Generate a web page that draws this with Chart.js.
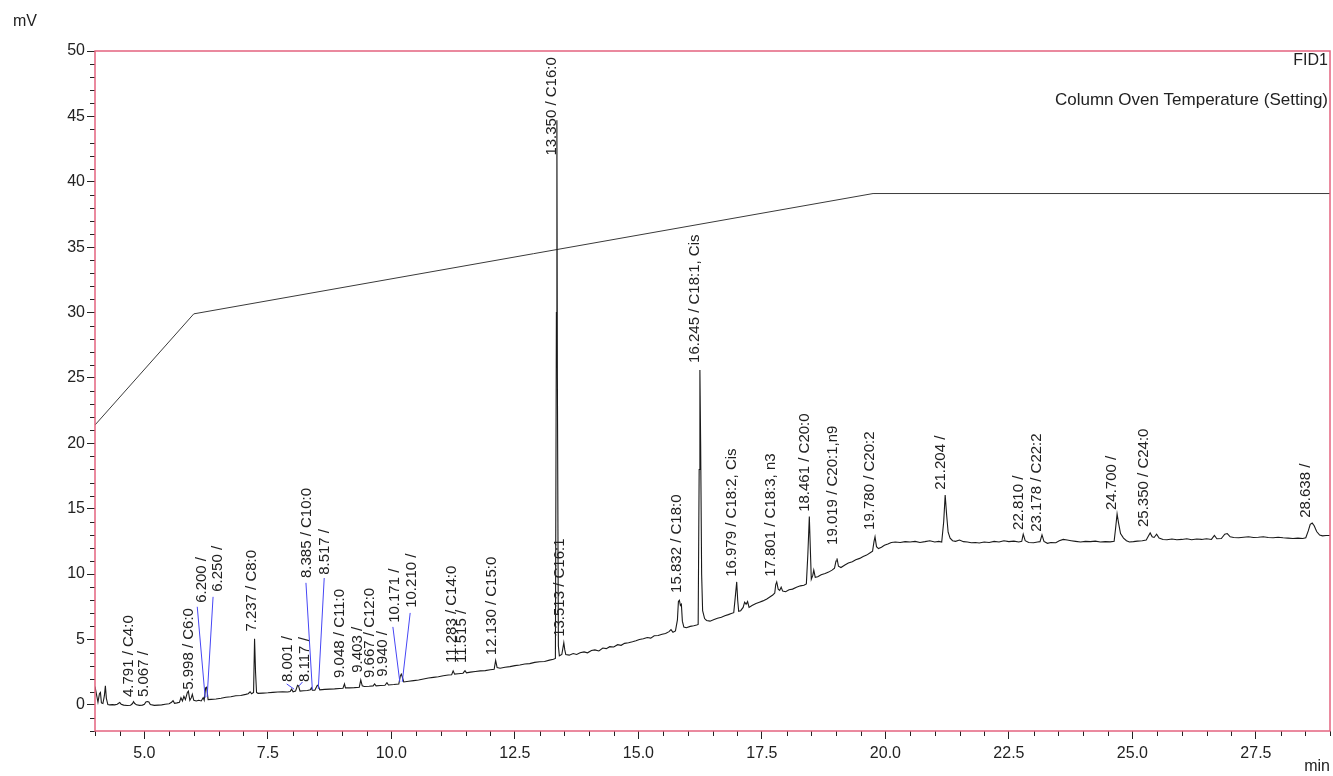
<!DOCTYPE html>
<html>
<head>
<meta charset="utf-8">
<title>FID1 chromatogram</title>
<script src="https://cdn.jsdelivr.net/npm/chart.js@4.4.1/dist/chart.umd.min.js"></script>
<style>
  html, body { margin: 0; padding: 0; background: #fff; }
  canvas { display: block; }
</style>
</head>
<body>
<canvas id="fid-chart" width="1333" height="776"></canvas>
<script>
// 轴刻度
const xTickValues = [5.0, 7.5, 10.0, 12.5, 15.0, 17.5, 20.0, 22.5, 25.0, 27.5];
const yTickValues = [0, 5, 10, 15, 20, 25, 30, 35, 40, 45, 50];

// 柱温程序 (Column Oven Temperature, 以 mV 轴显示)
const ovenTime = [4.0, 6.0, 19.75, 29.0];
const ovenValue = [21.4, 29.9, 39.1, 39.1];

// FID1 信号 [min, mV]
const fidTrace = [
  [4.00,1.40],[4.03,0.80],[4.06,0.20],[4.09,0.85],[4.11,0.95],[4.13,0.15],[4.16,0.10],[4.19,0.70],[4.21,1.45],[4.23,0.50],
  [4.26,0.02],[4.30,0.00],[4.35,0.02],[4.40,0.00],[4.45,0.05],[4.50,0.18],[4.53,0.05],[4.58,-0.02],[4.65,-0.05],[4.72,-0.03],
  [4.76,0.10],[4.78,0.25],[4.80,0.12],[4.84,0.00],[4.90,-0.04],[4.96,-0.02],[5.00,0.05],[5.03,0.22],[5.06,0.25],[5.09,0.22],
  [5.12,0.02],[5.20,-0.04],[5.28,-0.02],[5.35,0.00],[5.42,0.05],[5.50,0.08],[5.55,0.20],[5.58,0.32],[5.61,0.12],[5.66,0.15],
  [5.71,0.20],[5.74,0.55],[5.77,0.30],[5.80,0.65],[5.83,0.40],[5.87,0.95],[5.89,1.05],[5.92,0.35],[5.95,0.55],[5.97,0.80],
  [6.00,0.35],[6.05,0.30],[6.10,0.35],[6.15,0.30],[6.19,0.55],[6.21,0.35],[6.24,1.30],[6.26,1.35],[6.29,0.40],[6.35,0.42],
  [6.45,0.45],[6.55,0.50],[6.65,0.58],[6.75,0.62],[6.85,0.70],[6.95,0.72],[7.05,0.80],[7.10,0.85],[7.14,1.00],[7.17,0.85],
  [7.21,0.95],[7.23,5.05],[7.25,2.50],[7.27,0.95],[7.30,0.88],[7.40,0.90],[7.50,0.92],[7.60,0.95],[7.70,0.98],[7.80,1.00],
  [7.90,0.98],[7.95,1.02],[7.98,1.20],[8.01,1.00],[8.06,1.05],[8.10,1.50],[8.12,1.45],[8.15,1.05],[8.22,1.08],[8.30,1.10],
  [8.36,1.15],[8.38,1.30],[8.40,1.12],[8.45,1.12],[8.50,1.50],[8.52,1.45],[8.55,1.15],[8.65,1.18],[8.75,1.20],[8.85,1.22],
  [8.95,1.25],[9.02,1.27],[9.05,1.60],[9.07,1.30],[9.15,1.30],[9.25,1.32],[9.35,1.35],[9.38,1.90],[9.41,1.45],[9.45,1.40],
  [9.55,1.42],[9.63,1.45],[9.66,1.60],[9.69,1.45],[9.78,1.48],[9.87,1.50],[9.91,1.70],[9.94,1.52],[10.05,1.55],[10.15,1.60],
  [10.18,2.20],[10.20,2.35],[10.22,2.15],[10.25,1.75],[10.35,1.80],[10.45,1.85],[10.55,1.90],[10.65,1.98],[10.75,2.05],[10.85,2.10],
  [10.95,2.15],[11.05,2.22],[11.15,2.28],[11.22,2.30],[11.25,2.60],[11.28,2.35],[11.35,2.38],[11.45,2.42],[11.49,2.62],[11.52,2.45],
  [11.60,2.50],[11.70,2.55],[11.80,2.60],[11.90,2.62],[12.00,2.68],[12.08,2.72],[12.11,3.40],[12.14,2.85],[12.20,2.80],[12.30,2.88],
  [12.40,2.92],[12.50,3.00],[12.60,3.05],[12.70,3.12],[12.80,3.15],[12.90,3.25],[13.00,3.30],[13.10,3.32],[13.20,3.42],[13.28,3.48],
  [13.32,3.55],[13.34,30.0],[13.35,44.7],[13.36,25.0],[13.38,4.50],[13.40,3.75],[13.45,3.85],[13.47,4.30],[13.49,4.75],[13.51,4.20],
  [13.53,3.85],[13.60,3.80],[13.68,3.92],[13.75,3.85],[13.82,3.98],[13.90,4.05],[13.97,3.98],[14.05,4.15],[14.12,4.20],[14.20,4.12],
  [14.28,4.35],[14.35,4.30],[14.42,4.45],[14.50,4.42],[14.58,4.60],[14.65,4.55],[14.72,4.70],[14.80,4.75],[14.88,4.82],[14.95,4.90],
  [15.02,5.00],[15.10,5.05],[15.18,5.15],[15.25,5.10],[15.32,5.28],[15.40,5.30],[15.48,5.40],[15.55,5.45],[15.62,5.60],[15.66,5.75],
  [15.70,5.55],[15.75,5.65],[15.79,6.50],[15.81,7.90],[15.83,8.00],[15.85,7.60],[15.87,7.70],[15.89,6.40],[15.92,5.95],[15.97,5.90],
  [16.05,6.00],[16.12,6.05],[16.18,6.10],[16.21,6.15],[16.23,18.0],[16.245,25.6],[16.26,20.0],[16.28,10.0],[16.30,7.20],[16.34,6.60],
  [16.38,6.45],[16.45,6.40],[16.52,6.50],[16.60,6.62],[16.68,6.70],[16.75,6.82],[16.82,6.90],[16.88,6.98],[16.93,7.05],[16.96,8.20],
  [16.99,9.40],[17.01,8.00],[17.03,7.15],[17.07,7.20],[17.12,7.45],[17.15,7.85],[17.18,7.70],[17.21,7.90],[17.24,7.45],[17.30,7.60],
  [17.38,7.75],[17.45,7.85],[17.52,7.95],[17.60,8.10],[17.66,8.25],[17.72,8.40],[17.76,8.55],[17.78,9.20],[17.80,9.40],[17.83,8.85],
  [17.86,8.75],[17.89,9.00],[17.92,8.70],[17.98,8.65],[18.05,8.80],[18.12,8.85],[18.20,9.00],[18.28,9.10],[18.35,9.15],[18.40,9.25],
  [18.43,11.5],[18.46,14.4],[18.48,12.0],[18.50,9.60],[18.53,9.90],[18.55,10.3],[18.58,9.75],[18.63,9.80],[18.70,9.95],[18.78,10.05],
  [18.85,10.15],[18.92,10.30],[18.97,10.45],[19.00,11.00],[19.02,11.20],[19.05,10.60],[19.10,10.50],[19.18,10.70],[19.25,10.85],[19.33,10.95],
  [19.40,11.10],[19.48,11.20],[19.55,11.35],[19.62,11.45],[19.70,11.65],[19.74,11.75],[19.77,12.50],[19.79,12.85],[19.82,12.10],[19.86,11.95],
  [19.92,12.05],[19.98,12.20],[20.05,12.30],[20.12,12.42],[20.20,12.45],[20.30,12.42],[20.40,12.48],[20.50,12.45],[20.60,12.50],[20.70,12.42],
  [20.80,12.48],[20.90,12.55],[21.00,12.45],[21.08,12.50],[21.14,12.45],[21.18,14.00],[21.21,16.05],[21.24,14.50],[21.27,13.20],[21.31,12.75],
  [21.36,12.55],[21.42,12.50],[21.50,12.60],[21.58,12.48],[21.66,12.45],[21.74,12.40],[21.82,12.42],[21.90,12.38],[22.00,12.45],[22.10,12.42],
  [22.20,12.50],[22.30,12.45],[22.40,12.55],[22.50,12.48],[22.60,12.52],[22.70,12.45],[22.76,12.50],[22.79,13.05],[22.83,12.55],[22.90,12.42],
  [23.00,12.40],[23.08,12.45],[23.13,12.48],[23.17,13.00],[23.21,12.50],[23.28,12.35],[23.35,12.42],[23.45,12.40],[23.52,12.55],[23.60,12.65],
  [23.68,12.60],[23.76,12.55],[23.85,12.50],[23.95,12.45],[24.05,12.50],[24.15,12.48],[24.25,12.52],[24.35,12.45],[24.45,12.48],[24.55,12.46],
  [24.63,12.50],[24.66,13.50],[24.69,14.60],[24.72,13.90],[24.76,13.10],[24.82,12.75],[24.88,12.55],[24.94,12.45],[25.02,12.48],[25.10,12.52],
  [25.20,12.55],[25.28,12.60],[25.33,12.95],[25.36,13.15],[25.40,12.85],[25.44,12.80],[25.49,13.05],[25.54,12.75],[25.62,12.65],[25.70,12.62],
  [25.80,12.68],[25.90,12.62],[26.00,12.65],[26.10,12.70],[26.20,12.62],[26.30,12.68],[26.40,12.65],[26.50,12.70],[26.60,12.65],[26.66,12.95],
  [26.71,12.70],[26.80,12.72],[26.87,13.05],[26.92,13.10],[26.98,12.85],[27.05,12.80],[27.15,12.78],[27.25,12.82],[27.35,12.85],[27.45,12.80],
  [27.55,12.82],[27.65,12.85],[27.75,12.80],[27.85,12.78],[27.95,12.82],[28.05,12.78],[28.15,12.75],[28.25,12.72],[28.35,12.75],[28.45,12.72],
  [28.51,12.78],[28.56,13.30],[28.60,13.80],[28.64,13.90],[28.68,13.70],[28.73,13.25],[28.79,12.98],[28.85,12.92],[28.92,12.95],[29.00,12.95]
];

// 峰标注
const peakNames = [
  '4.791 / C4:0', '5.067 /', '5.998 / C6:0', '6.200 /', '6.250 /', '7.237 / C8:0', '8.001 /', '8.117 /',
  '8.385 / C10:0', '8.517 /', '9.048 / C11:0', '9.403 /', '9.667 / C12:0', '9.940 /', '10.171 /', '10.210 /',
  '11.283 / C14:0', '11.515 /', '12.130 / C15:0', '13.350 / C16:0', '13.513 / C16:1', '15.832 / C18:0',
  '16.245 / C18:1, Cis', '16.979 / C18:2, Cis', '17.801 / C18:3, n3', '18.461 / C20:0', '19.019 / C20:1,n9',
  '19.780 / C20:2', '21.204 /', '22.810 /', '23.178 / C22:2', '24.700 /', '25.350 / C24:0', '28.638 /'
];
// 标注文字位置 (min, mV: 文字起点)
const labelAt = [4.68, 4.98, 5.89, 6.17, 6.48, 7.18, 7.91, 8.25, 8.29, 8.66, 8.96, 9.33, 9.57, 9.83, 10.07, 10.42,
  11.23, 11.43, 12.03, 13.25, 13.41, 15.77, 16.14, 16.89, 17.69, 18.36, 18.93, 19.68, 21.13, 22.71, 23.07, 24.59, 25.23, 28.51];
const labelBase = [0.6, 0.6, 1.15, 7.8, 8.65, 5.6, 1.75, 1.75, 9.7, 9.94, 2.06, 2.45, 2.06, 2.14, 6.27, 7.42,
  3.2, 3.2, 3.8, 42.0, 5.2, 8.56, 26.15, 9.79, 9.79, 14.76, 12.23, 13.38, 16.44, 13.38, 13.23, 14.9, 13.6, 14.3];

// 蓝色引线 [起点min, 起点mV, 终点min, 终点mV]
const leaderLines = [
  [6.07, 7.5, 6.23, 0.55],
  [6.39, 8.26, 6.27, 0.6],
  [7.88, 1.6, 8.03, 1.2],
  [8.13, 1.45, 8.20, 1.75],
  [8.27, 9.33, 8.40, 1.15],
  [8.64, 9.7, 8.52, 1.22],
  [10.03, 5.96, 10.17, 1.76],
  [10.38, 7.03, 10.22, 1.76]
];

const FONT = 'Liberation Sans, Arial, sans-serif';
const FRAME_COLOR = '#e4637f';
const TEXT_COLOR = '#222';

// 画边框、次刻度和轴单位
const framePlugin = {
  id: 'frame',
  afterDraw(chart) {
    const { ctx, chartArea: a, scales } = chart;
    ctx.save();
    // 次刻度
    ctx.strokeStyle = TEXT_COLOR;
    ctx.lineWidth = 1;
    ctx.beginPath();
    const xs = scales.x, ys = scales.y;
    for (let k = Math.ceil(xs.min / 0.5); k * 0.5 <= xs.max; k++) {
      if (k % 5 === 0) continue;
      const px = Math.round(xs.getPixelForValue(k * 0.5)) + 0.5;
      ctx.moveTo(px, a.bottom);
      ctx.lineTo(px, a.bottom + 5);
    }
    for (let k = Math.ceil(ys.min); k <= ys.max; k++) {
      if (k % 5 === 0) continue;
      const py = Math.round(ys.getPixelForValue(k)) + 0.5;
      ctx.moveTo(a.left - 5, py);
      ctx.lineTo(a.left, py);
    }
    ctx.stroke();
    // 边框
    ctx.strokeStyle = FRAME_COLOR;
    ctx.lineWidth = 1.5;
    ctx.strokeRect(a.left, a.top, a.right - a.left, a.bottom - a.top);
    // 单位
    ctx.fillStyle = TEXT_COLOR;
    ctx.font = '16px ' + FONT;
    ctx.textBaseline = 'middle';
    ctx.textAlign = 'left';
    ctx.fillText('mV', 13, 22);
    ctx.textAlign = 'right';
    ctx.fillText('min', a.right, 767);
    ctx.fillText('FID1', a.right - 2, 61);
    ctx.font = '17px ' + FONT;
    ctx.fillText('Column Oven Temperature (Setting)', a.right - 2, 100);
    ctx.restore();
  }
};

// 画峰标注
const labelPlugin = {
  id: 'peakLabels',
  afterDatasetsDraw(chart) {
    const { ctx, scales } = chart;
    const xs = scales.x, ys = scales.y;
    ctx.save();
    ctx.strokeStyle = 'rgb(70,70,245)';
    ctx.lineWidth = 1;
    leaderLines.forEach(l => {
      ctx.beginPath();
      ctx.moveTo(xs.getPixelForValue(l[0]), ys.getPixelForValue(l[1]));
      ctx.lineTo(xs.getPixelForValue(l[2]), ys.getPixelForValue(l[3]));
      ctx.stroke();
    });
    ctx.fillStyle = TEXT_COLOR;
    ctx.font = '15px ' + FONT;
    ctx.textAlign = 'left';
    ctx.textBaseline = 'middle';
    peakNames.forEach((name, i) => {
      ctx.save();
      ctx.translate(xs.getPixelForValue(labelAt[i]), ys.getPixelForValue(labelBase[i]));
      ctx.rotate(-Math.PI / 2);
      ctx.fillText(name, 0, 0);
      ctx.restore();
    });
    ctx.restore();
  }
};

const ctx = document.getElementById('fid-chart').getContext('2d');
window.fidChart = new Chart(ctx, {
  type: 'line',
  data: {
    datasets: [
      {
        label: 'FID1',
        data: fidTrace.map(p => ({ x: p[0], y: p[1] })),
        borderColor: '#1a1a1a',
        borderWidth: 1.1,
        pointRadius: 0,
        tension: 0
      },
      {
        label: 'Column Oven Temperature (Setting)',
        data: ovenTime.map((t, i) => ({ x: t, y: ovenValue[i] })),
        borderColor: '#3a3a3a',
        borderWidth: 1,
        pointRadius: 0,
        tension: 0
      }
    ]
  },
  options: {
    responsive: false,
    animation: false,
    layout: { padding: { left: 0, right: 3, top: 51, bottom: 0 } },
    plugins: {
      legend: { display: false },
      tooltip: { enabled: false }
    },
    scales: {
      x: {
        type: 'linear',
        min: 4,
        max: 29,
        afterBuildTicks: s => { s.ticks = xTickValues.map(v => ({ value: v })); },
        afterFit: s => { s.height = 45; },
        border: { display: false },
        grid: { drawOnChartArea: false, tickLength: 8, color: TEXT_COLOR },
        ticks: {
          callback: v => Number(v).toFixed(1),
          font: { size: 16, family: FONT },
          color: TEXT_COLOR,
          padding: 5,
          maxRotation: 0,
          autoSkip: false
        }
      },
      y: {
        type: 'linear',
        min: -2,
        max: 50,
        afterBuildTicks: s => { s.ticks = yTickValues.map(v => ({ value: v })); },
        afterFit: s => { s.width = 95; },
        border: { display: false },
        grid: { drawOnChartArea: false, tickLength: 8, color: TEXT_COLOR },
        ticks: {
          callback: v => String(v),
          font: { size: 16, family: FONT },
          color: TEXT_COLOR,
          padding: 2,
          autoSkip: false
        }
      }
    }
  },
  plugins: [framePlugin, labelPlugin]
});
</script>
</body>
</html>
